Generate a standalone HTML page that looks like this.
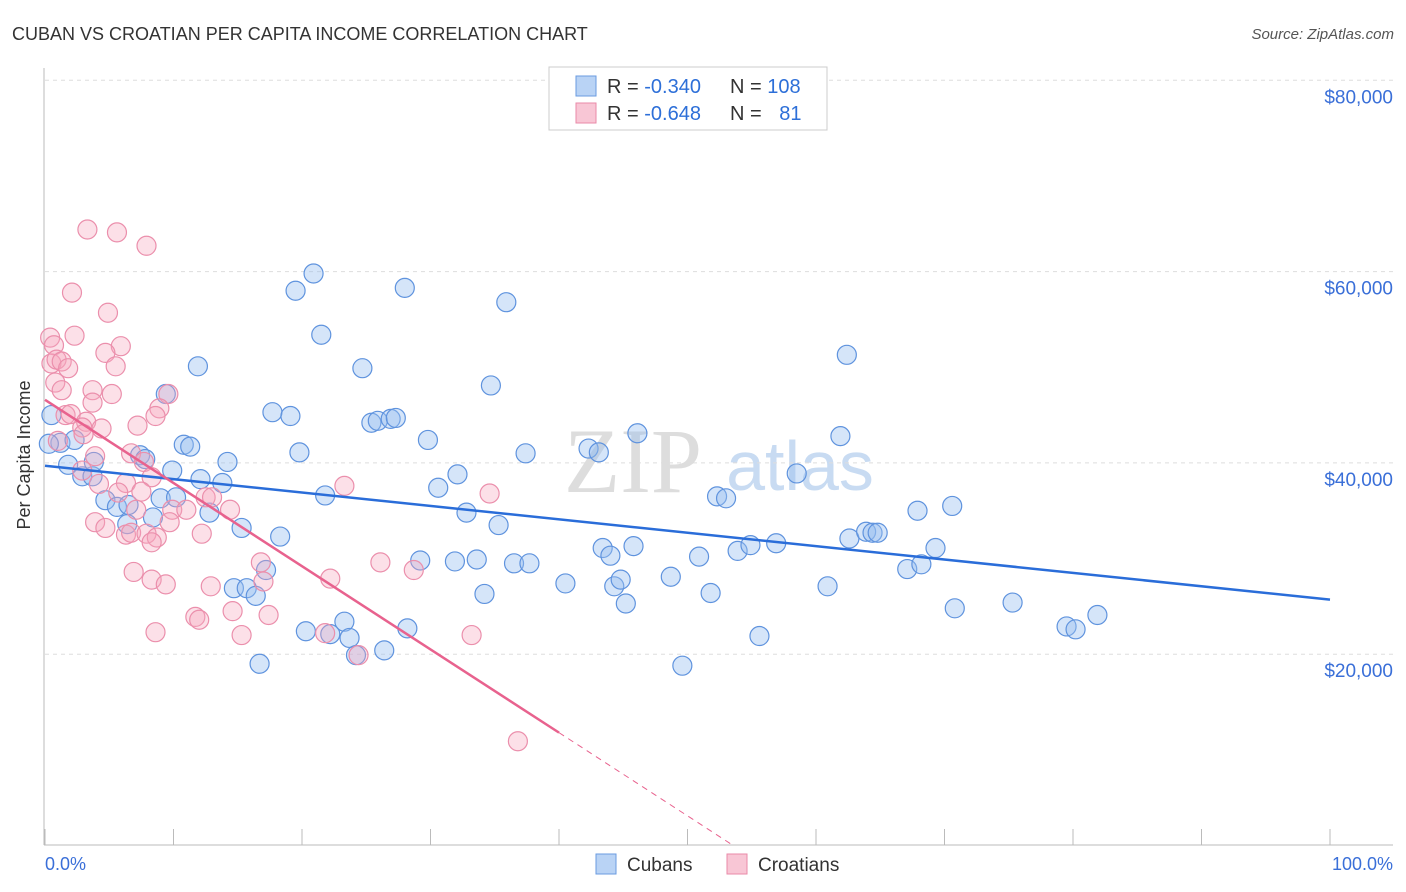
<!DOCTYPE html>
<html><head><meta charset="utf-8"><style>
body{margin:0;background:#fff;font-family:"Liberation Sans",sans-serif;}
#wrap{position:relative;width:1406px;height:892px;overflow:hidden;}
</style></head><body>
<div id="wrap">
<svg id="svg" width="1406" height="892" xmlns="http://www.w3.org/2000/svg">
<text x="12" y="40" font-size="18" fill="#333">CUBAN VS CROATIAN PER CAPITA INCOME CORRELATION CHART</text>
<text x="1394" y="39" font-size="15" fill="#555" text-anchor="end" font-style="italic">Source: ZipAtlas.com</text>
<g>
<text x="633" y="492" font-size="92" fill="#ddd" text-anchor="middle" font-family="Liberation Serif,serif">ZIP</text>
<text x="800" y="490" font-size="70" fill="#c8dbf2" text-anchor="middle">atlas</text>
</g>
<g id="grid"></g>
<g id="axes"></g>
<g id="pts"></g>
<g id="lines"></g>
<text x="30" y="455" font-size="18" fill="#333" text-anchor="middle" transform="rotate(-90 30 455)">Per Capita Income</text>
<g>
<rect x="549" y="67" width="278" height="63" fill="#fff" stroke="#ccc"/>
<rect x="576" y="76" width="20" height="20" fill="#b9d3f5" stroke="#6a9be0"/>
<rect x="576" y="103" width="20" height="20" fill="#f8c6d5" stroke="#ea8aa8"/>
<text x="607" y="93" font-size="20" fill="#333">R = <tspan fill="#2d6fd8">-0.340</tspan></text>
<text x="730" y="93" font-size="20" fill="#333">N = <tspan fill="#2d6fd8">108</tspan></text>
<text x="607" y="120" font-size="20" fill="#333">R = <tspan fill="#2d6fd8">-0.648</tspan></text>
<text x="730" y="120" font-size="20" fill="#333">N = <tspan fill="#2d6fd8" dx="12">81</tspan></text>
</g>
<g>
<rect x="596" y="854" width="20" height="20" fill="#b9d3f5" stroke="#6a9be0"/>
<text x="627" y="871" font-size="19" fill="#333">Cubans</text>
<rect x="727" y="854" width="20" height="20" fill="#f8c6d5" stroke="#ea8aa8"/>
<text x="758" y="871" font-size="19" fill="#333">Croatians</text>
</g>
<text x="45" y="870" font-size="18" fill="#3a6fd8">0.0%</text>
<text x="1393" y="870" font-size="18" fill="#3a6fd8" text-anchor="end">100.0%</text>
</svg>
</div>
<script>
const yTicks=[20000,40000,60000,80000];
const yTickLabels=["$20,000","$40,000","$60,000","$80,000"];
const xTicks=[0,10,20,30,40,50,60,70,80,90,100];
const cubanX=[0.5,1.2,2.3,1.8,2.9,3.7,3.8,4.7,5.6,6.5,6.4,7.4,7.8,8.4,9.0,9.4,9.9,10.2,10.8,11.3,11.9,12.1,12.8,13.8,14.2,15.3,14.7,15.7,16.4,17.2,16.7,17.7,18.3,19.1,19.5,19.8,20.9,20.3,21.5,21.8,22.2,23.3,23.7,24.2,24.7,25.4,25.9,26.9,27.3,26.4,28.0,28.2,29.2,29.8,30.6,31.9,32.1,32.8,33.6,34.2,34.7,35.3,35.9,36.5,37.7,37.4,40.5,42.3,43.1,43.4,44.0,44.3,44.8,45.2,45.8,46.1,48.7,49.6,50.9,51.8,52.3,53.0,53.9,54.9,55.6,56.9,58.5,60.9,61.9,62.4,62.6,63.9,64.4,64.8,67.1,67.9,68.2,69.3,70.6,70.8,75.3,79.5,80.2,81.9,0.3];
const cubanY=[45.0,42.1,42.4,39.8,38.6,38.6,40.1,36.1,35.4,35.6,33.6,40.8,40.4,34.3,36.3,47.2,39.2,36.4,41.9,41.7,50.1,38.3,34.8,37.9,40.1,33.2,26.9,26.9,26.1,28.8,19.0,45.3,32.3,44.9,58.0,41.1,59.8,22.4,53.4,36.6,22.1,23.4,21.7,19.9,49.9,44.2,44.4,44.6,44.7,20.4,58.3,22.7,29.8,42.4,37.4,29.7,38.8,34.8,29.9,26.3,48.1,33.5,56.8,29.5,29.5,41.0,27.4,41.5,41.1,31.1,30.3,27.1,27.8,25.3,31.3,43.1,28.1,18.8,30.2,26.4,36.5,36.3,30.8,31.4,21.9,31.6,38.9,27.1,42.8,51.3,32.1,32.8,32.7,32.7,28.9,35.0,29.4,31.1,35.5,24.8,25.4,22.9,22.6,24.1,42.0];
const croatX=[3.3,5.6,7.9,2.1,4.9,0.4,2.3,0.7,5.9,4.7,0.5,0.9,1.3,1.8,5.5,0.8,1.3,3.7,9.6,5.2,3.7,8.9,8.6,1.6,2.0,3.2,2.9,4.4,7.2,3.0,1.0,3.9,6.7,7.7,2.9,4.2,6.3,8.3,5.7,7.1,7.5,9.9,11.0,12.5,13.0,14.4,3.9,4.7,6.3,6.7,7.9,8.7,8.3,9.7,12.2,6.9,8.3,9.4,12.9,16.8,17.0,22.2,26.1,28.7,23.3,34.6,11.7,12.0,14.6,17.4,15.3,8.6,21.8,24.4,33.2,36.8];
const croatY=[64.4,64.1,62.7,57.8,55.7,53.1,53.3,52.3,52.2,51.5,50.4,50.8,50.6,49.9,50.1,48.4,47.6,47.6,47.2,47.2,46.3,45.7,44.9,45.0,45.1,44.3,43.7,43.6,43.9,43.0,42.3,40.7,41.0,40.1,39.2,37.8,37.9,38.5,36.9,35.1,37.0,35.1,35.1,36.4,36.4,35.1,33.8,33.2,32.5,32.7,32.6,32.2,31.7,33.8,32.6,28.6,27.8,27.3,27.1,29.6,27.6,27.9,29.6,28.8,37.6,36.8,23.9,23.6,24.5,24.1,22.0,22.3,22.2,19.9,22.0,10.9];
const cubanTrend=[39700,-140];   // intercept, slope per %
const croatTrend=[46600,-870];
const croatSolidEnd=40;

const NS="http://www.w3.org/2000/svg";
const X0=45,X1=1330,Y0=845.5,PXK=191.3/20000;
const sx=v=>X0+(X1-X0)*v/100;
const sy=v=>Y0-v*PXK;
function mk(tag,attrs,parent){const e=document.createElementNS(NS,tag);for(const k in attrs)e.setAttribute(k,attrs[k]);parent.appendChild(e);return e;}
const grid=document.getElementById('grid'),axes=document.getElementById('axes'),pts=document.getElementById('pts'),lines=document.getElementById('lines');
yTicks.forEach((t,i)=>{
  const g=mk('line',{x1:45,x2:1393,y1:sy(t),y2:sy(t),stroke:'#ddd','stroke-dasharray':'4 4'},grid);
  
  
  const tx=mk('text',{x:1393,y:sy(t)+23,'font-size':19,fill:'#3a6fd8','text-anchor':'end'},grid);
  tx.textContent=yTickLabels[i];
  
  
});
const ax=mk('line',{x1:44,x2:44,y1:68,y2:845,stroke:'#bbb'},axes);


const bx=mk('line',{x1:44,x2:1393,y1:845,y2:845,stroke:'#bbb'},axes);


xTicks.forEach(t=>{
  const l=mk('line',{x1:sx(t),x2:sx(t),y1:829,y2:845,stroke:'#bbb'},axes);
  
  
});
cubanX.forEach((x,i)=>{
  const c=mk('circle',{cx:sx(x),cy:sy(cubanY[i]*1000),r:9.5,fill:'rgba(150,190,240,0.4)',stroke:'#5f93de','stroke-width':1.2},pts);
  
  
});
croatX.forEach((x,i)=>{
  const c=mk('circle',{cx:sx(x),cy:sy(croatY[i]*1000),r:9.5,fill:'rgba(245,165,190,0.35)',stroke:'#eb8fac','stroke-width':1.2},pts);
  
  
});
const tb=mk('line',{x1:sx(0),y1:sy(cubanTrend[0]),x2:sx(100),y2:sy(cubanTrend[0]+cubanTrend[1]*100),stroke:'#2a6dd9','stroke-width':2.5},lines);


const tp=mk('line',{x1:sx(0),y1:sy(croatTrend[0]),x2:sx(croatSolidEnd),y2:sy(croatTrend[0]+croatTrend[1]*croatSolidEnd),stroke:'#e8628e','stroke-width':2.5},lines);


const xz=-croatTrend[0]/croatTrend[1];
const td=mk('line',{x1:sx(croatSolidEnd),y1:sy(croatTrend[0]+croatTrend[1]*croatSolidEnd),x2:sx(xz),y2:sy(0),stroke:'#e8628e','stroke-width':1,'stroke-dasharray':'6 5'},lines);


</script>
</body></html>
